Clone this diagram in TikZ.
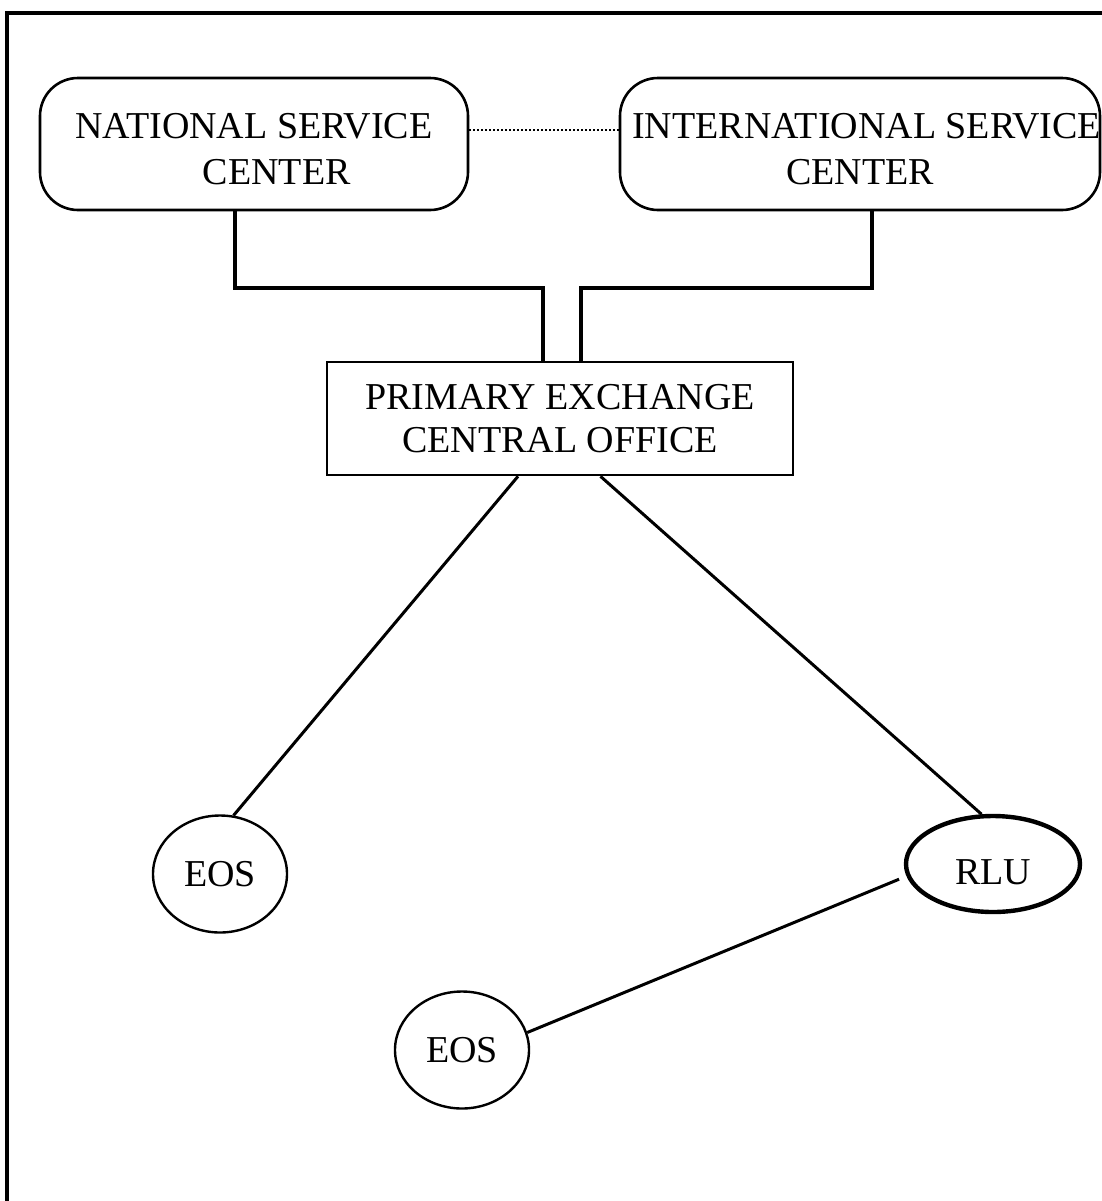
\documentclass[tikz,border=0pt]{standalone}
\usepackage{fontspec}
\setmainfont{Liberation Serif}
\usetikzlibrary{shapes.geometric}
\begin{document}
\begin{tikzpicture}[x=0.5pt,y=-0.5pt,
  every node/.style={font=\fontsize{19}{21.5}\selectfont, align=center, inner sep=0pt},
  center/.style={draw, line width=1.3pt, rounded corners=19pt, minimum height=66pt},
  centertext/.style={font=\fontsize{19}{23}\selectfont},
  office/.style={draw, line width=1.3pt, minimum width=233pt, minimum height=56.5pt},
  site/.style={draw, ellipse, line width=1.2pt, minimum width=67pt, minimum height=58.5pt},
  hub/.style={draw, ellipse, line width=2.2pt, minimum width=87pt, minimum height=48pt,
              text height=20pt, text depth=0pt},
  trunk/.style={line width=2pt},
  link/.style={line width=1.5pt},
  peer/.style={line width=0.8pt, dash pattern=on 0.8pt off 1.2pt}]
\useasboundingbox (0,0) rectangle (1102,1201);
\clip (0,0) rectangle (1102,1201);
% outer frame
\draw[line width=1.6pt] (7,13) rectangle (1130,1230);

% service centers
\node[center, minimum width=214pt] (nsc) at (254,144) {};
\node[centertext] (nsct) at ([yshift=-2.5pt]nsc.center) {NATIONAL SERVICE\\\hspace*{1.2em}CENTER};
\node[center, minimum width=240pt] (isc) at (860,144) {};
\node[centertext] (isct) at ([yshift=-2.5pt]isc.center) {\hspace*{0.35em}INTERNATIONAL SERVICE\\CENTER};
\draw[peer] ([yshift=7pt]nsc.east) -- ([yshift=7pt]isc.west);

% primary exchange
\node[office] (pec) at (560,418.5) {PRIMARY EXCHANGE\\CENTRAL OFFICE};

\draw[trunk] ([xshift=-9.5pt]nsc.south) -- ++(0,77) -| ([xshift=-8.5pt]pec.north);
\draw[trunk] ([xshift=6pt]isc.south) -- ++(0,77) -| ([xshift=10.5pt]pec.north);

% outlying stations
\node[site] (eos1) at (220,874) {EOS};
\node[hub] (rlu) at (993,864) {RLU};
\node[site] (eos2) at (462,1050) {EOS};

\draw[link] (pec.234.7) -- (eos1.77);
\draw[link] (pec.305.3) -- (rlu.103);
\draw[link, shorten >=4pt] (eos2.15) -- (rlu.188);
\end{tikzpicture}
\end{document}
